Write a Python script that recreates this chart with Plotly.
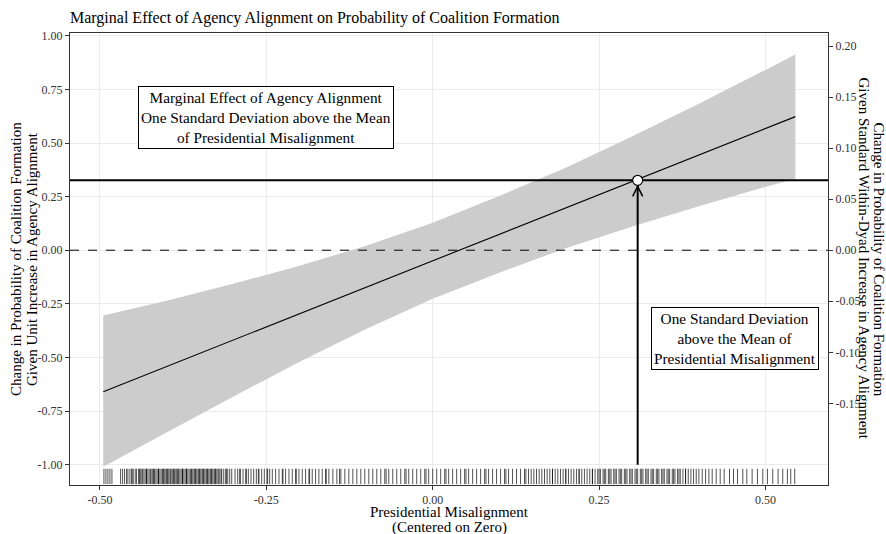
import plotly.graph_objects as go

# ---------------- data ----------------
X_GRID = [-0.495, -0.40, -0.30, -0.20, -0.10, 0.00, 0.10, 0.20, 0.30, 0.40, 0.50, 0.545]
EFFECT = [-0.660, -0.543, -0.420, -0.296, -0.173, -0.049, 0.074, 0.197, 0.321, 0.444, 0.568, 0.623]
UPPER = [-0.305, -0.236, -0.157, -0.072, 0.021, 0.128, 0.253, 0.385, 0.531, 0.683, 0.841, 0.913]
LOWER = [-1.010, -0.850, -0.683, -0.520, -0.367, -0.226, -0.105, 0.009, 0.111, 0.205, 0.295, 0.333]

MEAN_SD_X = 0.308        # one SD above mean of presidential misalignment
MEAN_SD_EFFECT = 0.326   # marginal effect at that value
ARROW_BASE = -1.0

# rug of observed presidential misalignment (thousandths)
RUG_MILLI = [
    -494, -491, -488, -485, -482,
    -469, -466, -463, -460, -458, -455, -452, -450, -447, -445, -442, -440, -438, -436, -434,
    -432, -430, -428, -426, -424, -422, -420, -418, -416, -414, -412, -410, -408, -406, -404,
    -402, -400, -398, -396, -394, -392, -390, -388, -386, -384, -382, -380, -378, -376, -374,
    -372, -370, -368, -366, -364, -362, -360, -358, -356, -354, -352, -350, -348, -346, -344,
    -342, -340, -338, -336, -334, -332, -330, -328, -326, -324, -322, -320, -317, -314, -311,
    -308, -305, -302,
    -452, -440, -430, -420, -412, -404, -398, -390, -384, -376, -370, -362, -356, -350, -344,
    -338, -332, -326, -318, -310,
    -297, -293, -289, -285, -281, -277, -273, -269, -265, -261, -257, -253, -249, -245, -241,
    -236, -231, -226, -221, -216, -211, -206, -201, -196, -191, -186, -181, -176, -171, -166,
    -161, -156, -150, -144, -138, -132, -126, -120, -114, -108, -102,
    -290, -280, -262, -248, -225, -205, -185, -160, -140,
    -96, -90, -84, -78, -72, -66, -60, -54, -48, -42, -36, -30, -24, -18, -12, -6, 0, 6, 12,
    18, 24, 30, 36, 42, 48, 54, 60, 66, 72, 78, 84, 90, 96, 102, 108, 114, 120, 126, 132, 138, 144,
    -70, -40, -10, 20, 50, 80, 110, 140,
    148, 152, 156, 160, 164, 168, 172, 176, 180, 184, 188, 192, 196, 200, 204, 208, 212, 216,
    220, 224, 228, 232, 236, 240, 244, 248, 252, 256, 260, 264, 268, 272, 276, 280, 284, 288,
    292, 296, 300, 304, 308, 312, 316, 320, 324, 328, 332, 336, 340, 344, 348, 352, 356, 360,
    364, 368, 372, 376, 380, 384, 388, 392, 396, 400, 405, 410, 415, 420,
    180, 200, 220, 240, 250, 258, 266, 274, 282, 290, 298, 306, 314, 322, 330, 338, 346, 354,
    362, 370, 380,
    426, 432, 438, 446, 452, 458, 466, 472, 480, 488, 496, 503, 511, 519, 526, 533, 538, 544,
]
RUG_X = [v / 1000 for v in RUG_MILLI]
RUG_Y = -1.055

X_TICKS = [-0.50, -0.25, 0.00, 0.25, 0.50]
X_TICK_TEXT = ["-0.50", "-0.25", "0.00", "0.25", "0.50"]
Y_TICKS = [-1.00, -0.75, -0.50, -0.25, 0.00, 0.25, 0.50, 0.75, 1.00]
Y_TICK_TEXT = ["-1.00", "-0.75", "-0.50", "-0.25", "0.00", "0.25", "0.50", "0.75", "1.00"]
Y2_TICKS = [-0.15, -0.10, -0.05, 0.00, 0.05, 0.10, 0.15, 0.20]
Y2_TICK_TEXT = ["-0.15", "-0.10", "-0.05", "0.00", "0.05", "0.10", "0.15", "0.20"]
Y2_SCALE = 0.21  # standard within-dyad change

X_RANGE = [-0.545, 0.594]
Y_RANGE = [-1.095, 1.013]

TITLE = "Marginal Effect of Agency Alignment on Probability of Coalition Formation"
X_TITLE_LINES = ["Presidential Misalignment", "(Centered on Zero)"]
Y_TITLE_LINES = ["Change in Probability of Coalition Formation",
                 "Given Unit Increase in Agency Alignment"]
Y2_TITLE_LINES = ["Change in Probability of Coalition Formation",
                  "Given Standard Within-Dyad Increase in Agency Alignment"]
LABEL1 = ("Marginal Effect of Agency Alignment<br>One Standard Deviation above the Mean<br>"
          "of Presidential Misalignment")
LABEL1_POS = (-0.25, 0.62)
LABEL2 = "One Standard Deviation<br>above the Mean of<br>Presidential Misalignment"
LABEL2_POS = (0.454, -0.41)

FONT = "Liberation Serif"

W, H = 886, 534
ML, MR, MT, MB = 70, 58, 33, 49
PW, PH = W - ML - MR, H - MT - MB


def px_x(abs_x):
    """window x pixel -> paper fraction"""
    return (abs_x - ML) / PW


def px_y(abs_y):
    """window y pixel -> paper fraction"""
    return (H - MB - abs_y) / PH


# ---------------- figure ----------------
fig = go.Figure()

fig.add_trace(go.Scatter(
    x=X_GRID + X_GRID[::-1], y=UPPER + LOWER[::-1],
    fill="toself", fillcolor="rgb(204,204,204)", line=dict(width=0),
    mode="lines", hoverinfo="skip", showlegend=False))

fig.add_trace(go.Scatter(
    x=[X_GRID[0], X_GRID[-1]], y=[EFFECT[0], EFFECT[-1]],
    mode="lines", line=dict(color="black", width=1.1), showlegend=False))

fig.add_trace(go.Scatter(
    x=X_RANGE, y=[0, 0], mode="lines",
    line=dict(color="black", width=1, dash="dash"), showlegend=False))

fig.add_trace(go.Scatter(
    x=X_RANGE, y=[MEAN_SD_EFFECT, MEAN_SD_EFFECT], mode="lines",
    line=dict(color="black", width=2), showlegend=False))

fig.add_trace(go.Scatter(
    x=[MEAN_SD_X, MEAN_SD_X], y=[ARROW_BASE, MEAN_SD_EFFECT], mode="lines",
    line=dict(color="black", width=2), showlegend=False))

fig.add_trace(go.Scatter(
    x=RUG_X, y=[RUG_Y] * len(RUG_X), mode="markers",
    marker=dict(symbol="line-ns", size=11,
                line=dict(color="rgba(0,0,0,0.68)", width=1)),
    hoverinfo="skip", showlegend=False))

fig.add_trace(go.Scatter(
    x=[MEAN_SD_X], y=[MEAN_SD_EFFECT], mode="markers",
    marker=dict(size=10, color="white", line=dict(color="black", width=1.2)),
    showlegend=False))

# invisible trace to activate secondary axis
fig.add_trace(go.Scatter(
    x=[X_RANGE[0]], y=[0], yaxis="y2", mode="markers",
    marker=dict(opacity=0), hoverinfo="skip", showlegend=False))

# open arrowhead (chevron) at the point
fig.add_shape(type="path", xref="x", yref="y",
              xsizemode="pixel", ysizemode="pixel",
              xanchor=MEAN_SD_X, yanchor=MEAN_SD_EFFECT,
              path="M -5 -16 L 0 -6 L 5 -16",
              line=dict(color="black", width=1.5))

tick_font = dict(family=FONT, size=12, color="#333333")
fig.update_layout(
    width=W, height=H,
    margin=dict(l=ML, r=MR, t=MT, b=MB, autoexpand=False),
    paper_bgcolor="white", plot_bgcolor="white",
    font=dict(family=FONT, color="black"),
    title=dict(text=TITLE, x=ML / W, xanchor="left", xref="container",
               y=1 - 17 / H, yanchor="middle", yref="container",
               font=dict(family=FONT, size=16, color="black")),
    xaxis=dict(range=X_RANGE, tickvals=X_TICKS, ticktext=X_TICK_TEXT,
               ticks="outside", ticklen=4, tickcolor="#333333", tickwidth=1,
               showgrid=True, gridcolor="#ebebeb", gridwidth=1.1,
               showline=True, linecolor="#333333", linewidth=1, mirror=True,
               zeroline=False, tickfont=tick_font),
    yaxis=dict(range=Y_RANGE, tickvals=Y_TICKS, ticktext=Y_TICK_TEXT,
               ticks="outside", ticklen=4, tickcolor="#333333", tickwidth=1,
               showgrid=True, gridcolor="#ebebeb", gridwidth=1.1,
               showline=True, linecolor="#333333", linewidth=1, mirror=True,
               zeroline=False, tickfont=tick_font),
    yaxis2=dict(range=[Y_RANGE[0] * Y2_SCALE, Y_RANGE[1] * Y2_SCALE],
                overlaying="y", side="right",
                tickvals=Y2_TICKS, ticktext=Y2_TICK_TEXT,
                ticks="outside", ticklen=4, tickcolor="#333333", tickwidth=1,
                showgrid=False, zeroline=False, showline=False,
                tickfont=tick_font),
)

ax_font = dict(family=FONT, size=15, color="black")
# x-axis title, one annotation per line (tight ggplot line spacing)
for txt, ay in zip(X_TITLE_LINES, [512, 527]):
    fig.add_annotation(text=txt, xref="paper", yref="paper", x=0.5, y=px_y(ay),
                       xanchor="center", yanchor="middle", showarrow=False, font=ax_font)
# left y-axis title
for txt, ax_ in zip(Y_TITLE_LINES, [16, 32]):
    fig.add_annotation(text=txt, xref="paper", yref="paper", x=px_x(ax_), y=0.5,
                       xanchor="center", yanchor="middle", textangle=-90,
                       showarrow=False, font=ax_font)
# right y-axis title
for txt, ax_ in zip(Y2_TITLE_LINES, [878.5, 863.5]):
    fig.add_annotation(text=txt, xref="paper", yref="paper", x=px_x(ax_), y=0.5,
                       xanchor="center", yanchor="middle", textangle=90,
                       showarrow=False, font=ax_font)

box_font = dict(family=FONT, size=15.3, color="black")
fig.add_annotation(text=LABEL1, x=LABEL1_POS[0], y=LABEL1_POS[1], xref="x", yref="y",
                   showarrow=False, bgcolor="white", bordercolor="black",
                   borderwidth=1, borderpad=2, font=box_font)
fig.add_annotation(text=LABEL2, x=LABEL2_POS[0], y=LABEL2_POS[1], xref="x", yref="y",
                   showarrow=False, bgcolor="white", bordercolor="black",
                   borderwidth=1, borderpad=2, font=box_font)

# remove the browser's default 8px body margin so the figure fills the window
fig.write_html("out.html", config={"displayModeBar": False},
               post_script="document.body.style.margin='0px';")
